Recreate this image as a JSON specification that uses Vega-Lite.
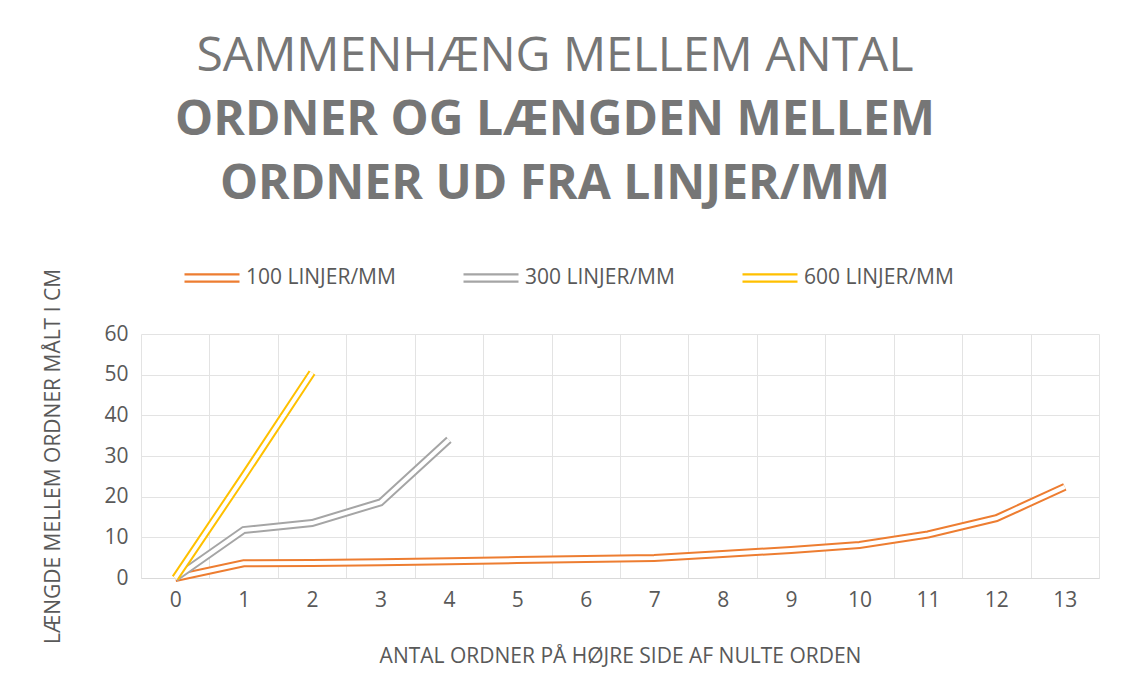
{
  "$schema": "https://vega.github.io/schema/vega-lite/v6.json",
  "width": 958,
  "height": 244,
  "autosize": {"type": "none"},
  "padding": {"left": 141, "top": 334, "right": 22, "bottom": 119},
  "background": "white",
  "title": {
    "text": "SAMMENHÆNG MELLEM ANTAL",
    "subtitle": ["ORDNER OG LÆNGDEN MELLEM", "ORDNER UD FRA LINJER/MM"],
    "anchor": "middle",
    "dx": -65,
    "offset": 40,
    "font": "Open Sans",
    "fontSize": 48,
    "fontWeight": "normal",
    "color": "#767676",
    "subtitleFont": "Open Sans",
    "subtitleFontSize": 48,
    "subtitleFontWeight": "bold",
    "subtitleColor": "#767676",
    "subtitleLineHeight": 64,
    "subtitlePadding": 16
  },
  "data": {
    "values": [
      {"x": 0, "y": 0, "s": "100 LINJER/MM"},
      {"x": 1, "y": 3.6, "s": "100 LINJER/MM"},
      {"x": 2, "y": 3.7, "s": "100 LINJER/MM"},
      {"x": 3, "y": 3.9, "s": "100 LINJER/MM"},
      {"x": 4, "y": 4.1, "s": "100 LINJER/MM"},
      {"x": 5, "y": 4.4, "s": "100 LINJER/MM"},
      {"x": 6, "y": 4.7, "s": "100 LINJER/MM"},
      {"x": 7, "y": 4.9, "s": "100 LINJER/MM"},
      {"x": 8, "y": 5.9, "s": "100 LINJER/MM"},
      {"x": 9, "y": 6.9, "s": "100 LINJER/MM"},
      {"x": 10, "y": 8.1, "s": "100 LINJER/MM"},
      {"x": 11, "y": 10.7, "s": "100 LINJER/MM"},
      {"x": 12, "y": 14.7, "s": "100 LINJER/MM"},
      {"x": 13, "y": 22.4, "s": "100 LINJER/MM"},
      {"x": 0, "y": 0, "s": "300 LINJER/MM"},
      {"x": 1, "y": 11.8, "s": "300 LINJER/MM"},
      {"x": 2, "y": 13.5, "s": "300 LINJER/MM"},
      {"x": 3, "y": 18.6, "s": "300 LINJER/MM"},
      {"x": 4, "y": 34, "s": "300 LINJER/MM"},
      {"x": 0, "y": 0, "s": "600 LINJER/MM"},
      {"x": 1, "y": 25, "s": "600 LINJER/MM"},
      {"x": 2, "y": 50.5, "s": "600 LINJER/MM"}
    ]
  },
  "encoding": {
    "x": {
      "field": "x",
      "type": "ordinal",
      "sort": "ascending",
      "scale": {"type": "band", "domain": [0,1,2,3,4,5,6,7,8,9,10,11,12,13], "paddingInner": 0, "paddingOuter": 0},
      "axis": {
        "title": "ANTAL ORDNER PÅ HØJRE SIDE AF NULTE ORDEN",
        "labelAngle": 0,
        "tickBand": "extent",
        "grid": true,
        "gridColor": "#e3e3e3",
        "domain": true,
        "domainColor": "#d9d9d9",
        "ticks": false,
        "labelPadding": 11,
        "titlePadding": 35
      }
    },
    "y": {
      "field": "y",
      "type": "quantitative",
      "scale": {"domain": [0, 60]},
      "axis": {
        "title": "LÆNGDE MELLEM ORDNER MÅLT I CM",
        "values": [0, 10, 20, 30, 40, 50, 60],
        "grid": true,
        "gridColor": "#e3e3e3",
        "domain": false,
        "ticks": false,
        "labelPadding": 13,
        "titlePadding": 40
      }
    }
  },
  "layer": [
    {
      "transform": [{"filter": "datum.s === '100 LINJER/MM'"}],
      "mark": {"type": "line", "strokeWidth": 8},
      "encoding": {
        "color": {
          "field": "s",
          "type": "nominal",
          "scale": {"domain": ["100 LINJER/MM", "300 LINJER/MM", "600 LINJER/MM"], "range": ["#ED7D31", "#A5A5A5", "#FFC000"]},
          "legend": {
            "title": null,
            "orient": "none",
            "direction": "horizontal",
            "legendX": 42,
            "legendY": -85,
            "symbolType": "M-1,-0.13H1M-1,0.13H1",
            "symbolSize": 3025,
            "symbolStrokeWidth": 2.3,
            "columnPadding": 62,
            "labelOffset": 5
          }
        }
      }
    },
    {
      "transform": [{"filter": "datum.s === '100 LINJER/MM'"}],
      "mark": {"type": "line", "strokeWidth": 4, "color": "white"}
    },
    {
      "transform": [{"filter": "datum.s === '300 LINJER/MM'"}],
      "mark": {"type": "line", "strokeWidth": 8},
      "encoding": {"color": {"field": "s", "type": "nominal"}}
    },
    {
      "transform": [{"filter": "datum.s === '300 LINJER/MM'"}],
      "mark": {"type": "line", "strokeWidth": 4, "color": "white"}
    },
    {
      "transform": [{"filter": "datum.s === '600 LINJER/MM'"}],
      "mark": {"type": "line", "strokeWidth": 8},
      "encoding": {"color": {"field": "s", "type": "nominal"}}
    },
    {
      "transform": [{"filter": "datum.s === '600 LINJER/MM'"}],
      "mark": {"type": "line", "strokeWidth": 4, "color": "white"}
    }
  ],
  "config": {
    "font": "Open Sans",
    "view": {"stroke": null},
    "axis": {
      "labelFont": "Open Sans",
      "labelFontSize": 21,
      "labelColor": "#595959",
      "titleFont": "Open Sans",
      "titleFontSize": 21,
      "titleFontWeight": "normal",
      "titleColor": "#595959"
    },
    "legend": {
      "labelFont": "Open Sans",
      "labelFontSize": 21,
      "labelColor": "#595959"
    }
  }
}
